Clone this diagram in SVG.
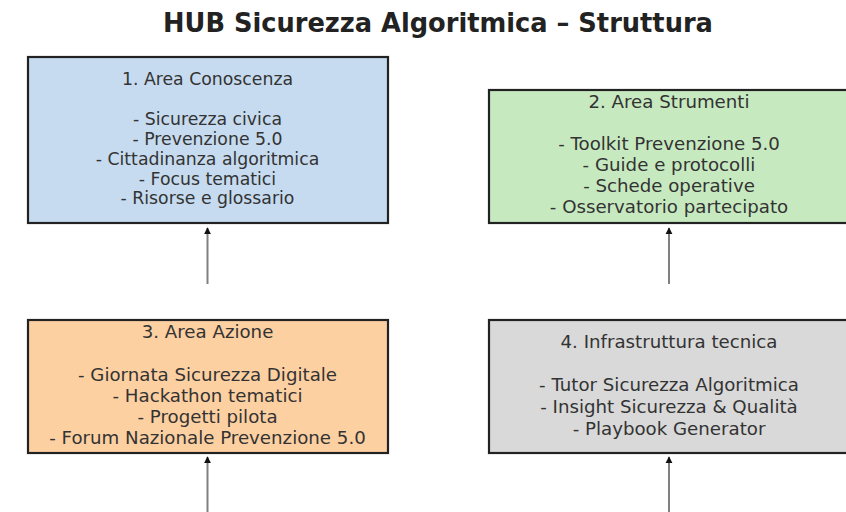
<svg xmlns="http://www.w3.org/2000/svg" width="846" height="512" viewBox="0 0 846 512">
<style>
  .box { stroke: #222; stroke-width: 2.2; }
  .t { font-family: "DejaVu Sans", "Liberation Sans", sans-serif; fill: #333; text-anchor: middle; }
  .s1 { font-size: 17.3px; }
  .s2 { font-size: 18.2px; }
  .title { font-family: "DejaVu Sans", "Liberation Sans", sans-serif; font-weight: bold; font-size: 25.7px; fill: #222; text-anchor: middle; }
  .conn { stroke: #808080; stroke-width: 2; fill: none; marker-end: url(#ah); }
</style>
<defs>
  <marker id="ah" viewBox="0 0 10 10" refX="9" refY="5" markerWidth="3.6" markerHeight="3.6" orient="auto" markerUnits="strokeWidth">
    <path d="M0,0 L10,5 L0,10 z" fill="#111"/>
  </marker>
</defs>
<rect width="846" height="512" fill="#fff"/>
<text class="title" x="438" y="32">HUB Sicurezza Algoritmica – Struttura</text>

<g id="node1">
  <rect class="box" x="28" y="57" width="360" height="166" fill="#c6dbef"/>
  <text class="t s1" x="207.5" y="85">1. Area Conoscenza</text>
  <text class="t s1" x="207.5" y="125">- Sicurezza civica</text>
  <text class="t s1" x="207.5" y="144.5">- Prevenzione 5.0</text>
  <text class="t s1" x="207.5" y="164.5">- Cittadinanza algoritmica</text>
  <text class="t s1" x="207.5" y="184.5">- Focus tematici</text>
  <text class="t s1" x="207.5" y="204">- Risorse e glossario</text>
</g>

<g id="node2">
  <rect class="box" x="489" y="90" width="361" height="133" fill="#c7e9c0"/>
  <text class="t s2" x="669" y="108">2. Area Strumenti</text>
  <text class="t s2" x="669" y="150">- Toolkit Prevenzione 5.0</text>
  <text class="t s2" x="669" y="171">- Guide e protocolli</text>
  <text class="t s2" x="669" y="192">- Schede operative</text>
  <text class="t s2" x="669" y="213">- Osservatorio partecipato</text>
</g>

<g id="node3">
  <rect class="box" x="28" y="320" width="360" height="133" fill="#fdd0a2"/>
  <text class="t s2" x="207.5" y="338">3. Area Azione</text>
  <text class="t s2" x="207.5" y="381">- Giornata Sicurezza Digitale</text>
  <text class="t s2" x="207.5" y="402">- Hackathon tematici</text>
  <text class="t s2" x="207.5" y="423">- Progetti pilota</text>
  <text class="t s2" x="207.5" y="444">- Forum Nazionale Prevenzione 5.0</text>
</g>

<g id="node4">
  <rect class="box" x="489" y="320" width="361" height="133" fill="#d9d9d9"/>
  <text class="t s2" x="669" y="348">4. Infrastruttura tecnica</text>
  <text class="t s2" x="669" y="391">- Tutor Sicurezza Algoritmica</text>
  <text class="t s2" x="669" y="413">- Insight Sicurezza &amp; Qualità</text>
  <text class="t s2" x="669" y="435">- Playbook Generator</text>
</g>

<g id="connectors">
  <line class="conn" x1="207.5" y1="284" x2="207.5" y2="228"/>
  <line class="conn" x1="669" y1="284" x2="669" y2="228"/>
  <line class="conn" x1="207.5" y1="514" x2="207.5" y2="457"/>
  <line class="conn" x1="669" y1="514" x2="669" y2="457"/>
</g>
</svg>
